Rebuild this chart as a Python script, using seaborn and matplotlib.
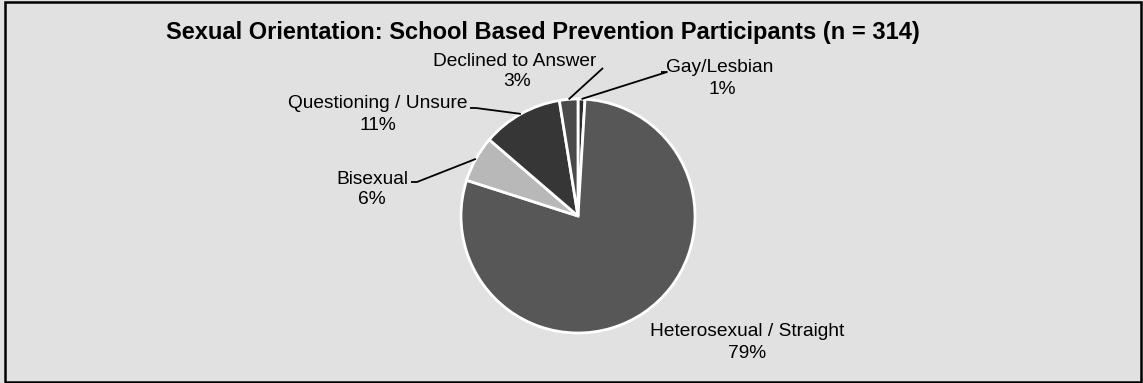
import matplotlib
matplotlib.use("Agg")
import matplotlib.pyplot as plt
import seaborn as sns
import numpy as np
from matplotlib.patches import Rectangle

# ---- data ----
categories = ["Gay/Lesbian", "Heterosexual / Straight", "Bisexual",
              "Questioning / Unsure", "Declined to Answer"]
counts = [3, 248, 20, 35, 8]
pct_labels = ["1%", "79%", "6%", "11%", "3%"]
title = "Sexual Orientation: School Based Prevention Participants (n = 314)"

# ---- style ----
colors = ["#2b2b2b", "#575757", "#b8b8b8", "#363636", "#4a4a4a"]
sns.set_theme(style="white")
plt.rcParams["font.family"] = ["Liberation Sans", "DejaVu Sans"]

W, H = 1143, 383
fig = plt.figure(figsize=(W / 100, H / 100), dpi=100)
fig.patch.set_facecolor("#e1e1e1")
ax = fig.add_axes([0, 0, 1, 1])
ax.set_facecolor("none")

def Y(y):  # pixel-from-top to data y
    return H - y

cx, cy, R = 578, 216, 117
wedges, _ = ax.pie(counts, colors=colors, startangle=90, counterclock=False,
                   center=(cx, Y(cy)), radius=R,
                   wedgeprops=dict(edgecolor="white", linewidth=2.0))
ax.set_xlim(0, W)
ax.set_ylim(0, H)
ax.set_aspect("equal")
ax.axis("off")

# label layout: (name center x, name y, pct center x, pct y, leader start or None)
layout = {
    "Gay/Lesbian": (720, 68, 722, 89, [(661, 72), (667, 72)]),
    "Heterosexual / Straight": (747, 332, 747, 354, None),
    "Bisexual": (372, 179, 372, 200, [(411, 182), (417, 182)]),
    "Questioning / Unsure": (378, 103, 378, 125, [(470, 108), (476, 108)]),
    "Declined to Answer": (515, 62, 517, 81, [(603, 68)]),
}

fs = 13.8
for w, name, pct in zip(wedges, categories, pct_labels):
    nx, ny, px, py, lead = layout[name]
    ax.text(nx, Y(ny), name, ha="center", va="center", fontsize=fs, color="black")
    ax.text(px, Y(py), pct, ha="center", va="center", fontsize=fs, color="black")
    if lead is not None:
        mid = np.deg2rad((w.theta1 + w.theta2) / 2)
        ex = w.center[0] + w.r * np.cos(mid)
        ey = w.center[1] + w.r * np.sin(mid)
        xs = [p[0] for p in lead] + [ex]
        ys = [Y(p[1]) for p in lead] + [ey]
        ax.plot(xs, ys, color="black", lw=1.3, solid_capstyle="butt")

ax.text(543, Y(33), title, ha="center", va="center", fontsize=17,
        fontweight="bold", color="black")

# outer frame
fig.patches.append(Rectangle((5 / W, 1 / H), (W - 7) / W, (H - 3) / H,
                             transform=fig.transFigure, fill=False,
                             edgecolor="black", linewidth=1.8))

fig.savefig("out.png", dpi=100, facecolor=fig.get_facecolor())
